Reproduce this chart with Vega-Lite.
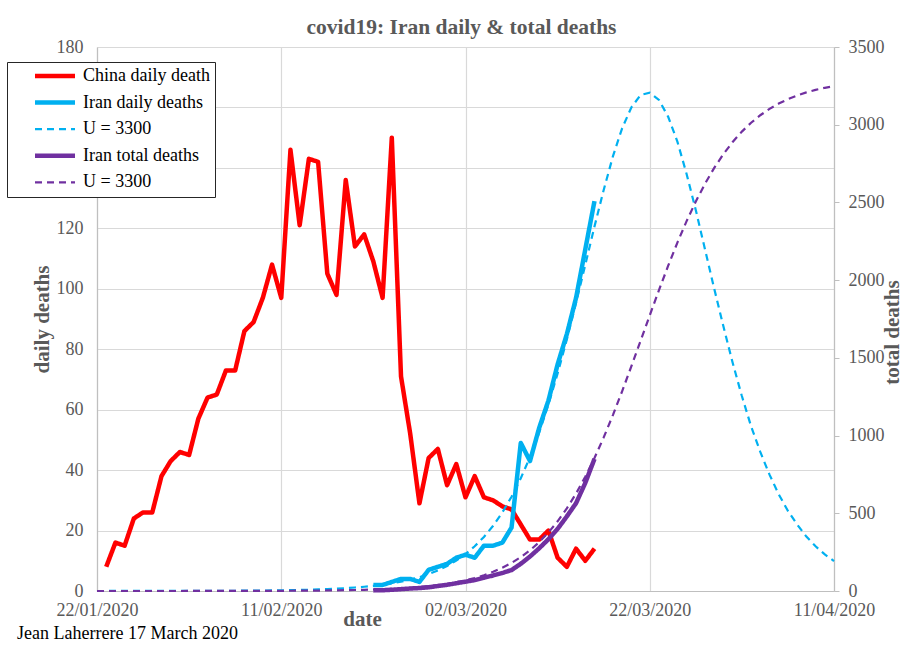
{
  "$schema": "https://vega.github.io/schema/vega-lite/v6.json",
  "width": 737,
  "height": 544,
  "autosize": "none",
  "padding": {"left": 97, "top": 47, "right": 69, "bottom": 60},
  "background": "white",
  "title": {"text": "Jean Laherrere 17 March 2020", "orient": "bottom", "anchor": "start", "frame": "group", "dx": -80, "offset": 10, "baseline": "alphabetic", "font": "Liberation Serif", "fontSize": 18, "fontWeight": "normal", "color": "black"},
  "data": {"values": [
    {"d":"2020-01-22","s3":0,"s5":0.02},
    {"d":"2020-01-23","s1":8,"s3":0.01,"s5":0.03},
    {"d":"2020-01-24","s1":16,"s3":0.01,"s5":0.04},
    {"d":"2020-01-25","s1":15,"s3":0.01,"s5":0.04},
    {"d":"2020-01-26","s1":24,"s3":0.01,"s5":0.05},
    {"d":"2020-01-27","s1":26,"s3":0.01,"s5":0.06},
    {"d":"2020-01-28","s1":26,"s3":0.01,"s5":0.08},
    {"d":"2020-01-29","s1":38,"s3":0.02,"s5":0.09},
    {"d":"2020-01-30","s1":43,"s3":0.02,"s5":0.11},
    {"d":"2020-01-31","s1":46,"s3":0.03,"s5":0.14},
    {"d":"2020-02-01","s1":45,"s3":0.03,"s5":0.17},
    {"d":"2020-02-02","s1":57,"s3":0.04,"s5":0.21},
    {"d":"2020-02-03","s1":64,"s3":0.05,"s5":0.26},
    {"d":"2020-02-04","s1":65,"s3":0.06,"s5":0.31},
    {"d":"2020-02-05","s1":73,"s3":0.07,"s5":0.39},
    {"d":"2020-02-06","s1":73,"s3":0.09,"s5":0.47},
    {"d":"2020-02-07","s1":86,"s3":0.10,"s5":0.58},
    {"d":"2020-02-08","s1":89,"s3":0.13,"s5":0.70},
    {"d":"2020-02-09","s1":97,"s3":0.16,"s5":0.86},
    {"d":"2020-02-10","s1":108,"s3":0.19,"s5":1.05},
    {"d":"2020-02-11","s1":97,"s3":0.23,"s5":1.29},
    {"d":"2020-02-12","s1":146,"s3":0.28,"s5":1.57},
    {"d":"2020-02-13","s1":121,"s3":0.35,"s5":1.92},
    {"d":"2020-02-14","s1":143,"s3":0.42,"s5":2.34},
    {"d":"2020-02-15","s1":142,"s3":0.52,"s5":2.86},
    {"d":"2020-02-16","s1":105,"s3":0.63,"s5":3.49},
    {"d":"2020-02-17","s1":98,"s3":0.77,"s5":4.27},
    {"d":"2020-02-18","s1":136,"s3":0.94,"s5":5.21},
    {"d":"2020-02-19","s1":114,"s3":1.15,"s5":6.36},
    {"d":"2020-02-20","s1":118,"s3":1.40,"s5":7.76},
    {"d":"2020-02-21","s1":109,"s2":2,"s3":1.71,"s4":4,"s5":9.5},
    {"d":"2020-02-22","s1":97,"s2":2,"s3":2.09,"s4":5,"s5":11.6},
    {"d":"2020-02-23","s1":150,"s2":3,"s3":2.55,"s4":8,"s5":14.1},
    {"d":"2020-02-24","s1":71,"s2":4,"s3":3.11,"s4":12,"s5":17.2},
    {"d":"2020-02-25","s1":52,"s2":4,"s3":3.79,"s4":16,"s5":21.0},
    {"d":"2020-02-26","s1":29,"s2":3,"s3":4.6,"s4":19,"s5":25.6},
    {"d":"2020-02-27","s1":44,"s2":7,"s3":5.6,"s4":24,"s5":31.3},
    {"d":"2020-02-28","s1":47,"s2":8,"s3":6.8,"s4":32,"s5":38.1},
    {"d":"2020-02-29","s1":35,"s2":9,"s3":8.3,"s4":40,"s5":46.4},
    {"d":"2020-03-01","s1":42,"s2":11,"s3":10.1,"s4":50,"s5":56.5},
    {"d":"2020-03-02","s1":31,"s2":12,"s3":12.2,"s4":60,"s5":68.8},
    {"d":"2020-03-03","s1":38,"s2":11,"s3":14.8,"s4":70,"s5":83.6},
    {"d":"2020-03-04","s1":31,"s2":15,"s3":17.9,"s4":85,"s5":101.5},
    {"d":"2020-03-05","s1":30,"s2":15,"s3":21.6,"s4":100,"s5":123.2},
    {"d":"2020-03-06","s1":28,"s2":16,"s3":26.0,"s4":116,"s5":149.2},
    {"d":"2020-03-07","s1":27,"s2":21,"s3":31.2,"s4":135,"s5":180.4},
    {"d":"2020-03-08","s1":22,"s2":49,"s3":37.3,"s4":175,"s5":217.8},
    {"d":"2020-03-09","s1":17,"s2":43,"s3":44.3,"s4":222,"s5":262.1},
    {"d":"2020-03-10","s1":17,"s2":54,"s3":52.4,"s4":275,"s5":314.6},
    {"d":"2020-03-11","s1":20,"s2":63,"s3":61.7,"s4":333,"s5":376.4},
    {"d":"2020-03-12","s1":11,"s2":75,"s3":72.0,"s4":400,"s5":448.4},
    {"d":"2020-03-13","s1":8,"s2":85,"s3":83.2,"s4":480,"s5":531.7},
    {"d":"2020-03-14","s1":14,"s2":97,"s3":95.3,"s4":565,"s5":627.0},
    {"d":"2020-03-15","s1":10,"s2":113,"s3":107.9,"s4":695,"s5":734.9},
    {"d":"2020-03-16","s1":14,"s2":129,"s3":120.6,"s4":850,"s5":855.4},
    {"d":"2020-03-17","s3":132.7,"s5":988.0},
    {"d":"2020-03-18","s3":143.8,"s5":1131.7},
    {"d":"2020-03-19","s3":153.1,"s5":1285.0},
    {"d":"2020-03-20","s3":160.0,"s5":1444.8},
    {"d":"2020-03-21","s3":164.1,"s5":1608.8},
    {"d":"2020-03-22","s3":164.9,"s5":1773.5},
    {"d":"2020-03-23","s3":162.5,"s5":1935.8},
    {"d":"2020-03-24","s3":156.9,"s5":2092.7},
    {"d":"2020-03-25","s3":148.7,"s5":2241.3},
    {"d":"2020-03-26","s3":138.0,"s5":2379.7},
    {"d":"2020-03-27","s3":126.0,"s5":2506.4},
    {"d":"2020-03-28","s3":113.0,"s5":2620.6},
    {"d":"2020-03-29","s3":100.0,"s5":2722.3},
    {"d":"2020-03-30","s3":87.5,"s5":2811.4},
    {"d":"2020-03-31","s3":75.5,"s5":2888.9},
    {"d":"2020-04-01","s3":64.5,"s5":2955.6},
    {"d":"2020-04-02","s3":54.5,"s5":3012.6},
    {"d":"2020-04-03","s3":46.0,"s5":3060.9},
    {"d":"2020-04-04","s3":38.5,"s5":3101.8},
    {"d":"2020-04-05","s3":32.0,"s5":3136.0},
    {"d":"2020-04-06","s3":26.5,"s5":3164.3},
    {"d":"2020-04-07","s3":22.0,"s5":3188.1},
    {"d":"2020-04-08","s3":18.0,"s5":3207.9},
    {"d":"2020-04-09","s3":14.8,"s5":3224.2},
    {"d":"2020-04-10","s3":12.1,"s5":3237.5},
    {"d":"2020-04-11","s3":9.9,"s5":3248.7}
  ]},
  "transform": [
    {"fold": ["s1", "s2", "s3", "s4", "s5"], "as": ["s", "v"]},
    {"filter": "isValid(datum.v)"}
  ],
  "layer": [
    {
      "encoding": {
        "x": {"field": "d", "type": "temporal",
          "scale": {"type": "utc", "nice": false, "domain": [{"year": 2020, "month": 1, "date": 22, "utc": true}, {"year": 2020, "month": 4, "date": 11, "utc": true}]},
          "axis": {"orient": "bottom",
            "values": [{"year": 2020, "month": 1, "date": 22, "utc": true}, {"year": 2020, "month": 2, "date": 11, "utc": true}, {"year": 2020, "month": 3, "date": 2, "utc": true}, {"year": 2020, "month": 3, "date": 22, "utc": true}, {"year": 2020, "month": 4, "date": 11, "utc": true}],
            "labelExpr": "utcFormat(datum.value, '%d/%m/%Y')", "ticks": false, "labelPadding": 10, "labelFlush": false, "labelOverlap": false,
            "grid": true, "title": "date", "titleX": 265, "titleY": 34, "titleBaseline": "alphabetic", "titleAlign": "center", "titleAnchor": null}},
        "y": {"field": "v", "type": "quantitative",
          "scale": {"domain": [0, 180], "nice": false},
          "axis": {"orient": "left", "values": [0, 20, 40, 60, 80, 100, 120, 140, 160, 180], "ticks": false, "labelPadding": 14, "grid": true,
            "title": "daily deaths", "titleX": -49, "titleY": 272, "titleAngle": 270, "titleBaseline": "alphabetic", "titleAlign": "center"}},
        "color": {"field": "s", "type": "nominal",
          "scale": {"domain": ["s1", "s2", "s3", "s4", "s5"], "range": ["#FF0000", "#00B0F0", "#00B0F0", "#7030A0", "#7030A0"]},
          "legend": {"orient": "none", "legendX": -90, "legendY": 15, "title": null, "direction": "vertical",
            "fillColor": "white", "strokeColor": "#262626", "padding": 5,
            "symbolType": "stroke", "symbolSize": 1600, "symbolOffset": 34, "labelOffset": 19, "rowPadding": 8.6,
            "labelFont": "Liberation Serif", "labelFontSize": 18, "labelColor": "black", "labelLimit": 300,
            "labelExpr": "datum.value === 's1' ? 'China daily death' : datum.value === 's2' ? 'Iran daily deaths' : datum.value === 's4' ? 'Iran total deaths' : 'U = 3300'",
            "encode": {
              "symbols": {"update": {"strokeWidth": {"signal": "datum.value === 's3' || datum.value === 's5' ? 2.2 : 4.5"}}}
            }}},
        "strokeDash": {"field": "s", "type": "nominal",
          "scale": {"domain": ["s1", "s2", "s3", "s4", "s5"], "range": [[1, 0], [1, 0], [7, 5], [1, 0], [7, 5]]}}
      },
      "layer": [
        {"transform": [{"filter": "datum.s === 's1' || datum.s === 's2'"}], "mark": {"type": "line", "strokeWidth": 4.5, "strokeJoin": "round"}},
        {"transform": [{"filter": "datum.s === 's3'"}], "mark": {"type": "line", "strokeWidth": 2.2}}
      ]
    },
    {
      "encoding": {
        "x": {"field": "d", "type": "temporal",
          "axis": {"orient": "top", "labels": false, "ticks": false, "domain": false, "grid": false,
            "title": "covid19: Iran daily & total deaths", "titleFontSize": 21.5, "titleX": 364, "titleY": -14, "titleBaseline": "alphabetic", "titleAlign": "center", "titleAnchor": null}},
        "y": {"field": "v", "type": "quantitative",
          "scale": {"domain": [0, 3500], "nice": false},
          "axis": {"orient": "right", "values": [0, 500, 1000, 1500, 2000, 2500, 3000, 3500], "format": "d", "grid": false, "ticks": true, "tickSize": 5, "labelPadding": 9,
            "title": "total deaths", "titleX": 64, "titleY": 285, "titleAngle": 270, "titleBaseline": "alphabetic", "titleAlign": "center"}},
        "color": {"field": "s", "type": "nominal"},
        "strokeDash": {"field": "s", "type": "nominal"}
      },
      "layer": [
        {"transform": [{"filter": "datum.s === 's4'"}], "mark": {"type": "line", "strokeWidth": 4.5, "strokeJoin": "round"}},
        {"transform": [{"filter": "datum.s === 's5'"}], "mark": {"type": "line", "strokeWidth": 2.2}}
      ]
    }
  ],
  "resolve": {"scale": {"y": "independent"}, "axis": {"x": "independent", "y": "independent"}},
  "config": {
    "font": "Liberation Serif",
    "view": {"stroke": null},
    "legend": {"labelFont": "Liberation Serif", "labelFontSize": 18, "labelColor": "black"},
    "axis": {"labelFont": "Liberation Serif", "labelFontSize": 18, "labelColor": "#595959",
      "titleFont": "Liberation Serif", "titleFontSize": 21, "titleFontWeight": "bold", "titleColor": "#595959",
      "gridColor": "#d9d9d9", "gridWidth": 1.2, "domainColor": "#bfbfbf", "domainWidth": 1.2, "tickColor": "#bfbfbf"}
  }
}
